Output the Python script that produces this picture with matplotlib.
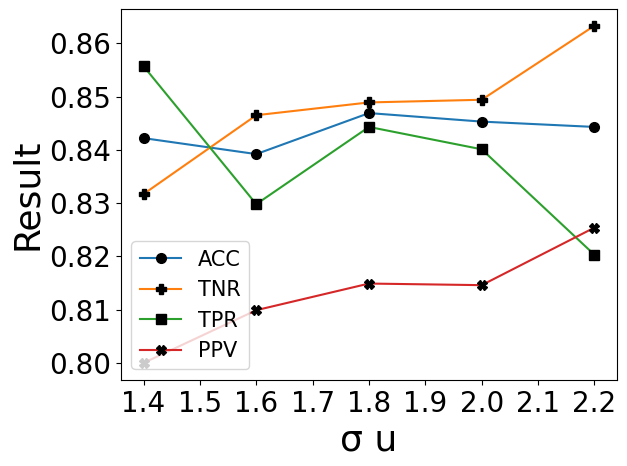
import matplotlib
matplotlib.use("Agg")
import matplotlib.pyplot as plt

sigma_u = [1.4, 1.6, 1.8, 2.0, 2.2]
acc = [0.8422, 0.8392, 0.8469, 0.8453, 0.8443]
tnr = [0.8317, 0.8465, 0.8489, 0.8494, 0.8633]
tpr = [0.8557, 0.8298, 0.8443, 0.8401, 0.8203]
ppv = [0.8000, 0.8099, 0.8149, 0.8146, 0.8254]

fig = plt.figure(figsize=(6.27, 4.66), dpi=100)
ax = fig.add_axes([0.193, 0.185, 0.791, 0.796])

ax.plot(sigma_u, acc, marker='o', color='tab:blue', mfc='black', mec='black', ms=7, label='ACC')
ax.plot(sigma_u, tnr, marker='P', color='tab:orange', mfc='black', mec='black', ms=7, label='TNR')
ax.plot(sigma_u, tpr, marker='s', color='tab:green', mfc='black', mec='black', ms=7, label='TPR')
ax.plot(sigma_u, ppv, marker='X', color='tab:red', mfc='black', mec='black', ms=7, label='PPV')

ax.set_xticks([1.4, 1.5, 1.6, 1.7, 1.8, 1.9, 2.0, 2.1, 2.2])
ax.set_yticks([0.80, 0.81, 0.82, 0.83, 0.84, 0.85, 0.86])
ax.tick_params(labelsize=20)
ax.set_xlabel('σ u', fontsize=26)
ax.set_ylabel('Result', fontsize=26)
ax.legend(loc='lower left', fontsize=15)

fig.savefig('out.png', dpi=100)
